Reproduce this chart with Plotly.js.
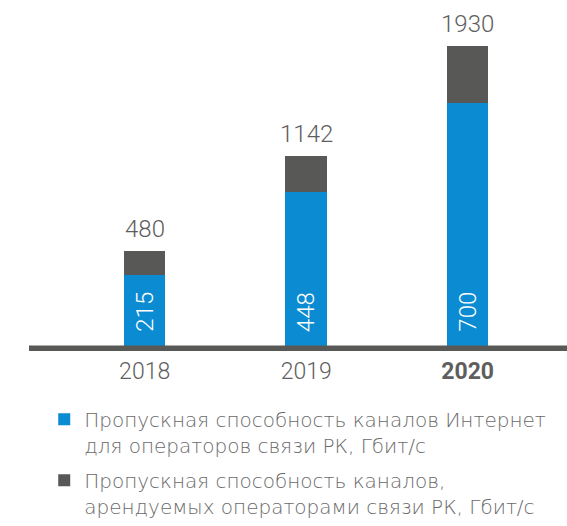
<!DOCTYPE html>
<html>
<head>
<meta charset="utf-8">
<script src="https://cdn.plot.ly/plotly-3.0.1.min.js"></script>
<style>
  html, body { margin: 0; padding: 0; background: #fff; }
  #chart { width: 567px; height: 526px; }
</style>
</head>
<body>
<div id="chart"></div>
<script>
const years = ['2018', '2019', '2020'];
const tickText = ['2018', '2019', '<b>2020</b>'];
const internet = [215, 448, 700];     // blue segment, labelled inside
const leased = [68, 101, 161];        // dark segment as drawn (the picture is not to scale)
const totals = [480, 1142, 1930];     // labels above the bars
const seriesNames = [
  'Пропускная способность каналов Интернет<br>для операторов связи РК, Гбит/с',
  'Пропускная способность каналов,<br>арендуемых операторами связи РК, Гбит/с'
];

const BLUE = '#0a8bd2';
const DARK = '#585857';
const TXT = '#5e5e5e';
const FONT = 'Roboto, "Liberation Sans", Arial, sans-serif';
const LEGEND_FONT = '"DejaVu Sans", Roboto, sans-serif';

const traces = [
  {
    x: years, y: internet, type: 'bar', name: seriesNames[0],
    marker: { color: BLUE }, legendgroup: 'a', hoverinfo: 'skip'
  },
  {
    x: years, y: leased, type: 'bar', name: seriesNames[1],
    marker: { color: DARK }, legendgroup: 'b', hoverinfo: 'skip'
  }
];

const annotations = [];
years.forEach((yr, i) => {
  // total above the stack
  annotations.push({
    x: i, y: internet[i] + leased[i], xref: 'x', yref: 'y',
    text: String(totals[i]), showarrow: false,
    yanchor: 'middle', yshift: 22,
    font: { family: FONT, size: 24, color: TXT, weight: 300 }
  });
  // rotated value inside the blue part
  annotations.push({
    x: i, y: 0, xref: 'x', yref: 'y',
    text: String(internet[i]), showarrow: false, textangle: -90,
    yanchor: 'middle', yshift: 39,
    font: { family: FONT, size: 24, color: '#ffffff', weight: 300 }
  });
});

const layout = {
  width: 567, height: 526,
  margin: { l: 29, r: 0, t: 0, b: 174.5, autoexpand: false },
  paper_bgcolor: '#fff', plot_bgcolor: '#fff',
  barmode: 'stack', bargap: 0.743,
  font: { family: FONT, color: TXT },
  xaxis: {
    type: 'category', range: [-0.716, 2.615],
    tickvals: years, ticktext: tickText, tickangle: 0, ticklabelstandoff: 4,
    showgrid: false, zeroline: false, showline: false, ticks: '',
    tickfont: { family: FONT, size: 23, color: TXT, weight: 300 }
  },
  yaxis: {
    range: [0, 990], showticklabels: false, showgrid: false,
    zeroline: false, showline: false, ticks: ''
  },
  shapes: [{
    type: 'line', xref: 'paper', x0: 0, x1: 1,
    yref: 'y', ysizemode: 'pixel', yanchor: 0, y0: 2.8, y1: 2.8,
    line: { color: DARK, width: 5.5 }, layer: 'above'
  }],
  annotations: annotations,
  showlegend: true,
  legend: {
    xref: 'container', yref: 'container', x: 0.078, y: 0.24,
    xanchor: 'left', yanchor: 'top',
    traceorder: 'grouped', tracegroupgap: 6, valign: 'top',
    font: { family: LEGEND_FONT, size: 20, color: '#6a6a6a', weight: 200 },
    bgcolor: 'rgba(0,0,0,0)'
  }
};

Plotly.newPlot('chart', traces, layout, { displayModeBar: false, staticPlot: true })
  .catch(err => { document.body.insertAdjacentText('beforeend', String(err)); });
</script>
</body>
</html>
